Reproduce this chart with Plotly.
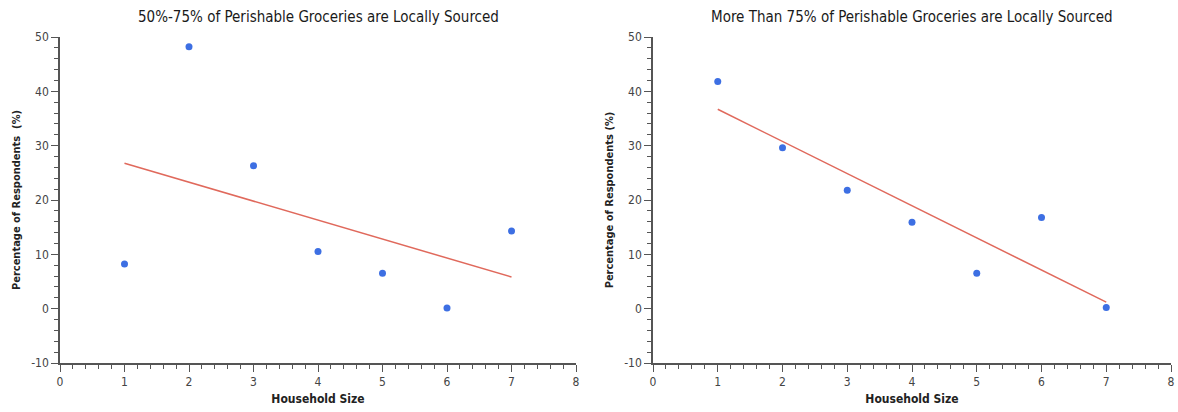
import numpy as np
import plotly.graph_objects as go

household_size = [1, 2, 3, 4, 5, 6, 7]
pct_50_75 = [8.2, 48.2, 26.3, 10.5, 6.5, 0.1, 14.3]
pct_over_75 = [41.8, 29.6, 21.8, 15.9, 6.5, 16.8, 0.2]
titles = ["50%-75% of Perishable Groceries are Locally Sourced",
          "More Than 75% of Perishable Groceries are Locally Sourced"]
y_titles = ["Percentage of Respondents  (%)", "Percentage of Respondents (%)"]
x_title = "Household Size"
y_tick_vals = [-10, 0, 10, 20, 30, 40, 50]
y_tick_text = ["-10", "0", "10", "20", "30", "40", "50"]

W, H = 1178, 412
FONT = "DejaVu Sans Condensed, Liberation Sans, sans-serif"
x_domains = [[60 / W, 576 / W], [653 / W, 1171 / W]]
y_domain = [1 - 363 / H, 1 - 37 / H]

fig = go.Figure()
series = [pct_50_75, pct_over_75]
for i, ys in enumerate(series):
    xa = "x" if i == 0 else "x2"
    ya = "y" if i == 0 else "y2"
    slope, icpt = np.polyfit(household_size, ys, 1)
    xs_fit = [min(household_size), max(household_size)]
    fig.add_trace(go.Scatter(x=xs_fit, y=[slope * v + icpt for v in xs_fit],
                             mode="lines", line=dict(color="#e0695c", width=1.5),
                             xaxis=xa, yaxis=ya, showlegend=False))
    fig.add_trace(go.Scatter(x=household_size, y=ys, mode="markers",
                             marker=dict(color="#3d6fe3", size=7),
                             xaxis=xa, yaxis=ya, showlegend=False))

axis_common = dict(showgrid=False, zeroline=False, showline=True,
                   linecolor="#555555", linewidth=1.5, ticks="outside",
                   tickcolor="#555555", tickwidth=1.2, ticklen=7,
                   automargin=False,
                   tickfont=dict(family=FONT, size=12, color="#444444"))

for i in range(2):
    sx = "" if i == 0 else "2"
    fig.layout["xaxis" + sx] = dict(
        axis_common, domain=x_domains[i], range=[0, 8], dtick=1, tick0=0,
        anchor="y" + sx,
        minor=dict(dtick=0.2, ticks="outside", ticklen=4, tickcolor="#555555"),
        title=dict(text="<b>" + x_title + "</b>", standoff=6,
                   font=dict(family=FONT, size=12, color="#222222")))
    fig.layout["yaxis" + sx] = dict(
        axis_common, domain=y_domain, range=[-10, 50],
        tickmode="array", tickvals=y_tick_vals, ticktext=y_tick_text,
        anchor="x" + sx,
        minor=dict(dtick=2, tick0=0, ticks="outside", ticklen=4, tickcolor="#555555"),
        title=dict(text="<b>" + y_titles[i] + "</b>", standoff=8,
                   font=dict(family=FONT, size=11, color="#222222")))
    fig.add_annotation(text=titles[i], xref="paper", yref="paper",
                       x=sum(x_domains[i]) / 2, y=1 - 17 / H, xanchor="center",
                       yanchor="middle", showarrow=False,
                       font=dict(family=FONT, size=15, color="#1a1a1a"))

fig.update_layout(width=W, height=H, margin=dict(l=0, r=0, t=0, b=0),
                  plot_bgcolor="white", paper_bgcolor="white")
fig.write_html("out.html")
